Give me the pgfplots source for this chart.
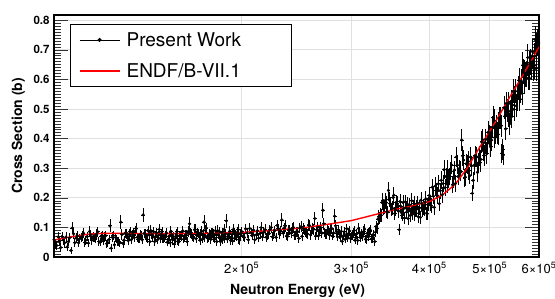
\documentclass[border=0pt]{standalone}
\usepackage{fontspec}
\setmainfont{TeX Gyre Heros}
\usepackage{pgfplots}
\usepackage{pgfplotstable}
\pgfplotsset{compat=1.18}

\pgfplotstableread{
x y e
100000 0.058 0.016
101000 0.039 0.015
102000 0.054 0.017
103000 0.069 0.015
104000 0.048 0.016
105000 0.034 0.014
106000 0.065 0.016
107000 0.098 0.021
108000 0.048 0.015
109000 0.071 0.017
110000 0.062 0.015
111000 0.071 0.016
112000 0.049 0.014
113000 0.069 0.016
114000 0.086 0.018
115000 0.057 0.015
116000 0.064 0.015
117000 0.077 0.017
118000 0.052 0.014
119000 0.070 0.016
120000 0.054 0.015
121000 0.072 0.017
122000 0.048 0.014
123000 0.105 0.022
124000 0.067 0.016
125000 0.041 0.014
126000 0.061 0.015
127000 0.051 0.015
128000 0.118 0.023
129000 0.046 0.014
130000 0.080 0.016
131000 0.069 0.015
132000 0.076 0.017
133000 0.058 0.014
134000 0.082 0.016
135000 0.088 0.018
136000 0.067 0.015
137000 0.063 0.015
138000 0.073 0.016
139000 0.142 0.025
140000 0.078 0.016
141000 0.060 0.014
142000 0.075 0.016
143000 0.089 0.018
144000 0.067 0.015
145000 0.052 0.014
146000 0.082 0.017
147000 0.073 0.015
148000 0.063 0.015
149000 0.085 0.017
150000 0.063 0.015
151000 0.072 0.016
152000 0.050 0.014
153000 0.070 0.016
154000 0.087 0.018
155000 0.058 0.015
156000 0.044 0.014
157000 0.078 0.016
158000 0.053 0.014
159000 0.071 0.016
160000 0.070 0.015
161000 0.088 0.018
162000 0.064 0.015
163000 0.074 0.016
164000 0.083 0.017
165000 0.112 0.022
166000 0.077 0.016
167000 0.068 0.015
168000 0.092 0.018
169000 0.062 0.015
170000 0.082 0.016
171000 0.071 0.015
172000 0.078 0.016
173000 0.060 0.014
174000 0.118 0.023
175000 0.090 0.018
176000 0.069 0.015
177000 0.065 0.015
178000 0.075 0.016
179000 0.081 0.016
180000 0.080 0.016
181000 0.060 0.014
182000 0.075 0.016
183000 0.089 0.018
184000 0.067 0.015
185000 0.052 0.014
186000 0.082 0.017
187000 0.073 0.015
188000 0.063 0.015
189000 0.122 0.023
190000 0.069 0.015
191000 0.078 0.016
192000 0.056 0.014
193000 0.076 0.016
194000 0.093 0.018
195000 0.064 0.015
196000 0.071 0.015
197000 0.084 0.017
198000 0.059 0.014
199000 0.077 0.016
200000 0.086 0.017
202000 0.066 0.015
204000 0.081 0.016
206000 0.096 0.018
208000 0.072 0.016
210000 0.058 0.015
212000 0.089 0.017
214000 0.079 0.016
216000 0.068 0.015
218000 0.092 0.018
220000 0.075 0.016
222000 0.092 0.017
224000 0.068 0.015
226000 0.089 0.017
228000 0.107 0.019
230000 0.077 0.016
232000 0.125 0.023
234000 0.098 0.018
236000 0.071 0.015
238000 0.091 0.017
240000 0.081 0.016
242000 0.100 0.018
244000 0.074 0.015
246000 0.085 0.017
248000 0.098 0.018
250000 0.070 0.015
252000 0.091 0.017
254000 0.081 0.016
256000 0.108 0.019
258000 0.075 0.016
260000 0.096 0.018
262000 0.130 0.023
264000 0.092 0.017
266000 0.073 0.015
268000 0.099 0.018
270000 0.158 0.025
272000 0.082 0.016
274000 0.078 0.016
276000 0.089 0.017
278000 0.095 0.018
280000 0.071 0.015
282000 0.138 0.024
284000 0.085 0.017
286000 0.092 0.017
288000 0.068 0.015
290000 0.053 0.014
292000 0.085 0.017
294000 0.075 0.016
296000 0.064 0.015
298000 0.088 0.017
300000 0.071 0.015
302000 0.081 0.016
304000 0.057 0.014
306000 0.078 0.016
308000 0.096 0.018
310000 0.066 0.015
312000 0.073 0.016
314000 0.087 0.017
316000 0.060 0.014
318000 0.080 0.016
320000 0.070 0.015
322000 0.090 0.017
324000 0.063 0.015
326000 0.074 0.016
328000 0.084 0.017
330000 0.096 0.019
332000 0.136 0.022
334000 0.142 0.023
336000 0.184 0.025
338000 0.165 0.023
340000 0.191 0.025
342000 0.153 0.022
344000 0.225 0.028
346000 0.180 0.024
348000 0.161 0.023
350000 0.201 0.026
352000 0.147 0.022
354000 0.185 0.025
356000 0.175 0.024
358000 0.092 0.019
360000 0.172 0.024
362000 0.142 0.022
364000 0.164 0.023
366000 0.186 0.025
368000 0.152 0.022
370000 0.130 0.021
372000 0.176 0.024
374000 0.162 0.023
376000 0.146 0.022
378000 0.180 0.025
380000 0.156 0.022
382000 0.170 0.024
384000 0.136 0.021
386000 0.166 0.023
388000 0.192 0.026
390000 0.156 0.022
392000 0.166 0.023
394000 0.186 0.025
396000 0.148 0.022
398000 0.176 0.024
400000 0.208 0.027
403000 0.173 0.025
406000 0.206 0.027
409000 0.240 0.029
412000 0.208 0.027
415000 0.180 0.025
418000 0.259 0.030
421000 0.248 0.029
424000 0.234 0.028
427000 0.295 0.032
430000 0.264 0.030
433000 0.290 0.031
436000 0.244 0.029
439000 0.294 0.032
442000 0.338 0.034
445000 0.272 0.030
448000 0.292 0.031
451000 0.395 0.037
454000 0.327 0.033
457000 0.270 0.030
460000 0.312 0.032
463000 0.291 0.031
466000 0.338 0.034
469000 0.215 0.027
472000 0.310 0.032
475000 0.336 0.033
478000 0.286 0.031
481000 0.341 0.034
484000 0.330 0.033
487000 0.397 0.036
490000 0.343 0.034
493000 0.398 0.036
496000 0.384 0.035
499000 0.409 0.036
502000 0.372 0.035
505000 0.439 0.037
508000 0.461 0.038
511000 0.418 0.036
514000 0.419 0.036
517000 0.453 0.037
520000 0.470 0.038
523000 0.350 0.033
526000 0.345 0.033
529000 0.476 0.038
532000 0.519 0.040
535000 0.478 0.038
538000 0.450 0.037
541000 0.524 0.040
544000 0.513 0.039
547000 0.499 0.039
550000 0.560 0.041
553000 0.534 0.040
556000 0.570 0.041
559000 0.534 0.040
562000 0.594 0.042
565000 0.648 0.044
568000 0.592 0.042
571000 0.617 0.043
574000 0.657 0.044
577000 0.605 0.042
580000 0.652 0.044
583000 0.641 0.043
586000 0.693 0.045
589000 0.646 0.044
592000 0.734 0.046
595000 0.711 0.045
598000 0.745 0.047
100500 0.043 0.015
101500 0.068 0.016
102500 0.032 0.014
103500 0.057 0.015
104500 0.067 0.016
105500 0.052 0.015
106500 0.022 0.013
107500 0.078 0.017
108500 0.064 0.016
109500 0.048 0.015
110500 0.065 0.016
111500 0.080 0.017
112500 0.057 0.015
113500 0.047 0.014
114500 0.075 0.016
115500 0.068 0.016
116500 0.061 0.015
117500 0.085 0.017
118500 0.050 0.014
119500 0.072 0.016
120500 0.069 0.016
121500 0.045 0.014
122500 0.059 0.015
123500 0.030 0.013
124500 0.072 0.016
125500 0.066 0.016
126500 0.052 0.015
127500 0.048 0.014
128500 0.076 0.017
129500 0.057 0.015
130500 0.078 0.016
131500 0.055 0.015
132500 0.085 0.017
133500 0.075 0.016
134500 0.065 0.015
135500 0.096 0.018
136500 0.061 0.015
137500 0.076 0.016
138500 0.058 0.015
139500 0.080 0.016
140500 0.065 0.015
141500 0.089 0.017
142500 0.052 0.014
143500 0.076 0.016
144500 0.085 0.017
145500 0.069 0.015
146500 0.058 0.015
147500 0.093 0.018
148500 0.078 0.016
149500 0.061 0.015
150500 0.066 0.015
151500 0.081 0.016
152500 0.058 0.015
153500 0.048 0.014
154500 0.076 0.016
155500 0.069 0.015
156500 0.062 0.015
157500 0.086 0.017
158500 0.051 0.014
159500 0.073 0.016
160500 0.085 0.017
161500 0.061 0.015
162500 0.075 0.016
163500 0.052 0.014
164500 0.088 0.017
165500 0.082 0.017
166500 0.068 0.015
167500 0.064 0.015
168500 0.092 0.018
169500 0.073 0.016
170500 0.080 0.016
171500 0.057 0.015
172500 0.087 0.017
173500 0.077 0.016
174500 0.067 0.015
175500 0.098 0.018
176500 0.063 0.015
177500 0.078 0.016
178500 0.060 0.015
179500 0.082 0.016
180500 0.065 0.015
181500 0.089 0.017
182500 0.052 0.014
183500 0.076 0.016
184500 0.085 0.017
185500 0.069 0.015
186500 0.058 0.015
187500 0.093 0.018
188500 0.078 0.016
189500 0.061 0.015
190500 0.072 0.016
191500 0.087 0.017
192500 0.064 0.015
193500 0.054 0.014
194500 0.082 0.016
195500 0.075 0.016
196500 0.068 0.015
197500 0.092 0.018
198500 0.057 0.015
199500 0.079 0.016
201000 0.071 0.016
203000 0.095 0.018
205000 0.058 0.015
207000 0.082 0.016
209000 0.091 0.017
211000 0.075 0.016
213000 0.064 0.015
215000 0.099 0.018
217000 0.084 0.016
219000 0.067 0.015
221000 0.078 0.016
223000 0.100 0.018
225000 0.077 0.016
227000 0.067 0.015
229000 0.095 0.018
231000 0.088 0.017
233000 0.081 0.016
235000 0.105 0.019
237000 0.070 0.015
239000 0.092 0.017
241000 0.096 0.018
243000 0.073 0.015
245000 0.086 0.017
247000 0.063 0.015
249000 0.102 0.018
251000 0.096 0.018
253000 0.082 0.016
255000 0.078 0.016
257000 0.106 0.019
259000 0.087 0.017
261000 0.094 0.018
263000 0.071 0.015
265000 0.101 0.018
267000 0.091 0.017
269000 0.081 0.016
271000 0.112 0.020
273000 0.077 0.016
275000 0.092 0.017
277000 0.074 0.015
279000 0.096 0.018
281000 0.081 0.016
283000 0.105 0.019
285000 0.068 0.015
287000 0.078 0.016
289000 0.087 0.017
291000 0.071 0.015
293000 0.060 0.014
295000 0.095 0.018
297000 0.080 0.016
299000 0.063 0.015
301000 0.074 0.016
303000 0.089 0.017
305000 0.066 0.015
307000 0.056 0.014
309000 0.084 0.017
311000 0.077 0.016
313000 0.070 0.015
315000 0.094 0.018
317000 0.059 0.014
319000 0.081 0.016
321000 0.085 0.017
323000 0.061 0.015
325000 0.075 0.016
327000 0.052 0.014
329000 0.104 0.019
331000 0.128 0.021
333000 0.132 0.021
335000 0.141 0.022
337000 0.191 0.025
339000 0.168 0.023
341000 0.183 0.024
343000 0.151 0.022
345000 0.193 0.025
347000 0.179 0.024
349000 0.165 0.023
351000 0.209 0.026
353000 0.159 0.022
355000 0.181 0.024
357000 0.155 0.022
359000 0.187 0.025
361000 0.150 0.022
363000 0.184 0.025
365000 0.132 0.021
367000 0.166 0.023
369000 0.178 0.024
371000 0.156 0.022
373000 0.140 0.021
375000 0.190 0.025
377000 0.168 0.023
379000 0.144 0.022
381000 0.160 0.023
383000 0.182 0.024
385000 0.148 0.022
387000 0.134 0.021
389000 0.182 0.024
391000 0.172 0.024
393000 0.162 0.023
395000 0.196 0.026
397000 0.146 0.022
399000 0.178 0.024
401500 0.180 0.025
404500 0.236 0.028
407500 0.168 0.025
410500 0.224 0.027
413500 0.247 0.029
416500 0.224 0.027
419500 0.210 0.026
422500 0.295 0.032
425500 0.272 0.030
428500 0.244 0.029
431500 0.272 0.030
434500 0.311 0.032
437500 0.264 0.030
440500 0.248 0.029
443500 0.311 0.032
446500 0.298 0.031
449500 0.288 0.031
452500 0.342 0.034
455500 0.267 0.030
458500 0.315 0.032
461500 0.324 0.033
464500 0.275 0.030
467500 0.308 0.032
470500 0.259 0.029
473500 0.342 0.034
476500 0.338 0.033
479500 0.318 0.032
482500 0.319 0.032
485500 0.389 0.036
488500 0.359 0.034
491500 0.387 0.036
494500 0.349 0.034
497500 0.422 0.037
500500 0.408 0.036
503500 0.395 0.036
506500 0.471 0.039
509500 0.404 0.036
512500 0.444 0.037
515500 0.415 0.036
518500 0.470 0.038
521500 0.443 0.037
524500 0.363 0.034
527500 0.504 0.039
530500 0.433 0.037
533500 0.494 0.039
536500 0.519 0.040
539500 0.492 0.039
542500 0.475 0.038
545500 0.560 0.041
548500 0.537 0.040
551500 0.511 0.039
554500 0.548 0.040
557500 0.595 0.042
560500 0.560 0.041
563500 0.553 0.041
566500 0.626 0.043
569500 0.621 0.043
572500 0.616 0.043
575500 0.674 0.045
578500 0.605 0.042
581500 0.660 0.044
584500 0.679 0.045
587500 0.638 0.043
590500 0.678 0.045
593500 0.637 0.043
596500 0.725 0.046
599500 0.723 0.046
}\datatable

\begin{document}
\begin{tikzpicture}
\path[use as bounding box] (-54pt,-41pt) rectangle (501pt,257pt);
\begin{axis}[
  at={(0pt,0pt)}, anchor=south west,
  scale only axis, width=485pt, height=242pt,
  xmode=log, xmin=100000, xmax=600000,
  ymin=0, ymax=0.8176,
  xtick={200000,300000,400000,500000,600000},
  xticklabels={2×10\textsuperscript{5},3×10\textsuperscript{5},4×10\textsuperscript{5},5×10\textsuperscript{5},6×10\textsuperscript{5}},
  xtick style={draw=none},
  minor xtick={},
  ytick={0,0.1,0.2,0.3,0.4,0.5,0.6,0.7,0.8},
  yticklabels={0,0.1,0.2,0.3,0.4,0.5,0.6,0.7,0.8},
  minor y tick num=9,
  tick align=inside,
  major tick length=14pt, minor tick length=7pt,
  ytick pos=both,
  every tick/.style={black!80, line width=0.5pt},
  xmajorgrids, ymajorgrids,
  major grid style={black!12, line width=0.7pt},
  axis line style={line width=1.5pt},
  yticklabel style={font=\fontsize{11.5}{13}\selectfont\bfseries, xshift=-1pt},
  xticklabel style={font=\fontsize{13}{15}\selectfont, yshift=-2pt},
  xlabel={Neutron Energy (eV)},
  ylabel={Cross Section (b)},
  xlabel style={at={(axis description cs:0.502,-0.153)}, anchor=base, font=\fontsize{14}{16}\selectfont\bfseries},
  ylabel style={at={(axis description cs:-0.066,0.5)}, anchor=base, font=\fontsize{14}{16}\selectfont\bfseries},
  legend style={at={(axis description cs:0.033,0.962)}, anchor=north west,
    draw=black, line width=1.1pt, fill=white,
    font=\fontsize{19}{22}\selectfont,
    inner xsep=8pt, inner ysep=5.5pt, row sep=12pt, column sep=4pt},
  legend cell align=left,
  clip=true,
]
\addplot[black, only marks, mark=*, mark size=1.4pt,
  legend image code/.code={
    \draw[black, line width=0.7pt] (0pt,0pt) -- (40pt,0pt);
    \fill[black] (20pt,0pt) circle (1.4pt);},
  error bars/.cd, y dir=both, y explicit, x dir=both, x fixed relative=0.007,
  error mark=none,
  error bar style={line width=0.85pt, black}]
  table[x=x, y=y, y error=e] {\datatable};
\addlegendentry{\makebox[155pt][l]{Present Work}}
\addplot[red, line width=1.4pt,
  legend image code/.code={\draw[red, line width=2pt] (0pt,0pt) -- (40pt,0pt);}]
  coordinates {
(100000,0.057) (105000,0.066) (110000,0.073) (115000,0.078) (120000,0.080)
(130000,0.080) (140000,0.079) (160000,0.079) (180000,0.080) (200000,0.083)
(220000,0.089) (250000,0.098) (280000,0.113) (300000,0.123) (330000,0.145)
(360000,0.165) (380000,0.175) (400000,0.187) (420000,0.210) (440000,0.245)
(460000,0.300) (480000,0.365) (500000,0.425) (520000,0.485) (540000,0.545)
(560000,0.600) (580000,0.655) (600000,0.710)};
\addlegendentry{\makebox[155pt][l]{ENDF/B-VII.1}}
\end{axis}
\end{tikzpicture}
\end{document}
